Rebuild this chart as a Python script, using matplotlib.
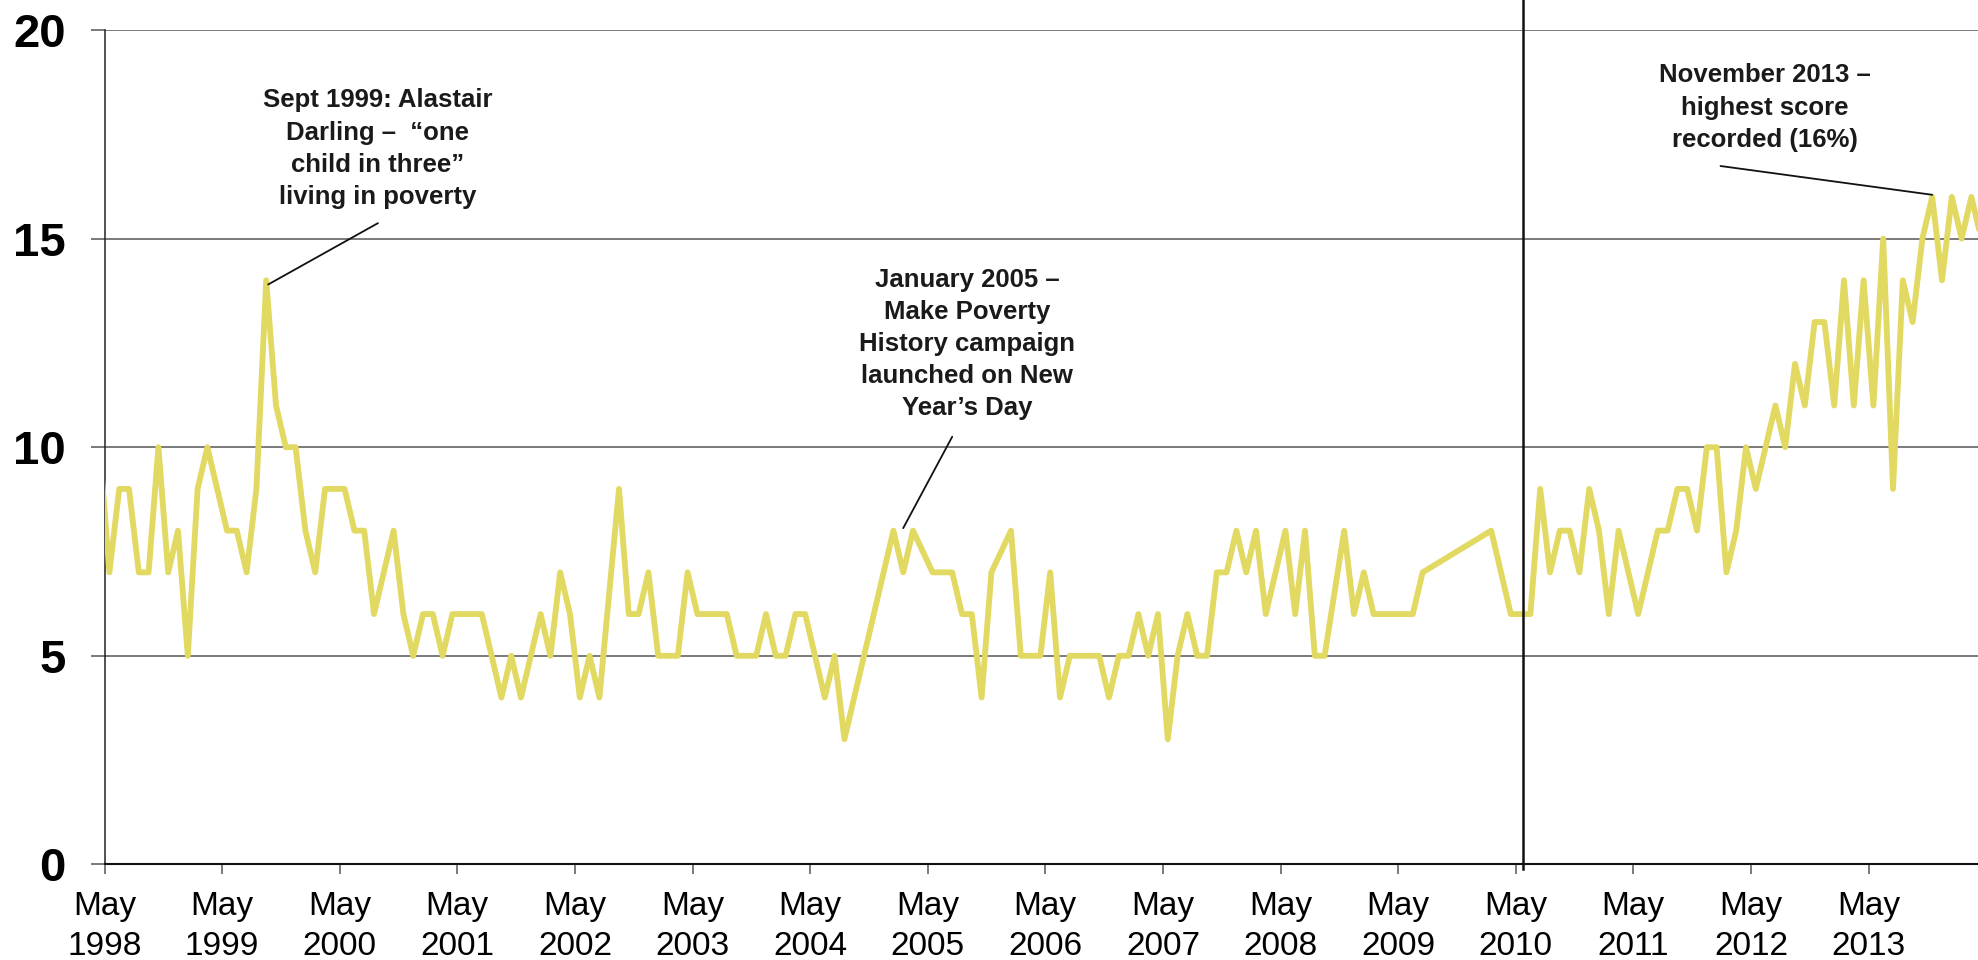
import matplotlib
matplotlib.use("Agg")
import matplotlib.pyplot as plt
import numpy as np

FONT = ["Liberation Sans", "DejaVu Sans"]
plt.rcParams["font.family"] = FONT

# Monthly scores (%), survey years May-April; None = no reading that month
score_apr1998 = [10]
score_9899 = [7, 9, 9, 7, 7, 10, 7, 8, 5, 9, 10, 9]
score_9900 = [8, 8, 7, 9, 14, 11, 10, 10, 8, 7, 9, 9]
score_0001 = [9, 8, 8, 6, 7, 8, 6, 5, 6, 6, 5, 6]
score_0102 = [6, 6, 6, 5, 4, 5, 4, 5, 6, 5, 7, 6]
score_0203 = [4, 5, 4, None, 9, 6, 6, 7, 5, 5, 5, 7]
score_0304 = [6, 6, 6, 6, 5, 5, 5, 6, 5, 5, 6, 6]
score_0405 = [5, 4, 5, 3, None, None, None, None, 8, 7, 8, None]
score_0506 = [7, 7, 7, 6, 6, 4, 7, None, 8, 5, 5, 5]
score_0607 = [7, 4, 5, 5, 5, 5, 4, 5, 5, 6, 5, 6]
score_0708 = [3, 5, 6, 5, 5, 7, 7, 8, 7, 8, 6, 7]
score_0809 = [8, 6, 8, 5, 5, None, 8, 6, 7, 6, 6, 6]
score_0910 = [6, 6, 7, None, None, None, None, None, None, 8, None, 6]
score_1011 = [6, 6, 9, 7, 8, 8, 7, 9, 8, 6, 8, 7]
score_1112 = [6, 7, 8, 8, 9, 9, 8, 10, 10, 7, 8, 10]
score_1213 = [9, 10, 11, 10, 12, 11, 13, 13, 11, 14, 11, 14]
score_1314 = [11, 15, 9, 14, 13, 15, 16, 14, 16, 15, 16, 15]

tick_years = list(range(1998, 2014))
tick_labels = [f"May\n{y}" for y in tick_years]
y_ticks = [0, 5, 10, 15, 20]

ann1_text = "Sept 1999: Alastair\nDarling \u2013  \u201cone\nchild in three\u201d\nliving in poverty"
ann2_text = "January 2005 \u2013\nMake Poverty\nHistory campaign\nlaunched on New\nYear\u2019s Day"
ann3_text = "November 2013 \u2013\nhighest score\nrecorded (16%)"

# ---------------------------------------------------------------
all_scores = (score_apr1998 + score_9899 + score_9900 + score_0001 + score_0102
              + score_0203 + score_0304 + score_0405 + score_0506 + score_0607
              + score_0708 + score_0809 + score_0910 + score_1011 + score_1112
              + score_1213 + score_1314)
months = np.arange(len(all_scores)) - 1  # month index, 0 = May 1998
mask = np.array([v is not None for v in all_scores])
xs = months[mask]
ys = np.array([v for v in all_scores if v is not None], dtype=float)

W, H = 1978, 960
fig = plt.figure(figsize=(W / 100, H / 100), dpi=100)
left_px, right_px, top_px, bottom_px = 104.5, 1978, 30, 864.4
ax = fig.add_axes([left_px / W, 1 - bottom_px / H,
                   (right_px - left_px) / W, (bottom_px - top_px) / H])

px_per_month = 9.8
ax.set_xlim(-0.5, -0.5 + (right_px - left_px) / px_per_month)
ax.set_ylim(0, 20)

grid_col = "#707070"
for yv in y_ticks[1:]:
    ax.axhline(yv, color=grid_col, lw=1.3, zorder=1)

ax.plot(xs, ys, color="#E1D962", lw=4.2, solid_joinstyle="round",
        solid_capstyle="round", zorder=3)

# election marker (May 2010)
ax.axvline(144.25, ymin=-0.006, ymax=1.05, color="#111111", lw=1.8,
           clip_on=False, zorder=4)

for s in ["top", "right"]:
    ax.spines[s].set_visible(False)
ax.spines["left"].set_color("#222222")
ax.spines["left"].set_linewidth(1.1)
ax.spines["bottom"].set_color("#111111")
ax.spines["bottom"].set_linewidth(1.5)
ax.spines["bottom"].set_zorder(5)

ax.set_yticks(y_ticks)
ax.set_yticklabels([str(v) for v in y_ticks], fontsize=34, fontweight="bold",
                   family=FONT)
ax.tick_params(axis="y", length=10, width=1.3, color=grid_col, pad=18)

ax.set_xticks([-0.5 + 12 * k for k in range(len(tick_years))])
ax.set_xticklabels(tick_labels, fontsize=24, family=FONT, linespacing=1.38)
ax.tick_params(axis="x", length=7, width=1.3, color=grid_col, pad=12)

ann_kw = dict(fontsize=18.5, fontweight="bold", ha="center", va="top",
              multialignment="center", family=FONT, linespacing=1.43,
              color="#1a1a1a", zorder=6)
ax.text(27.4, 18.6, ann1_text, **ann_kw)
ax.text(87.5, 14.3, ann2_text, **ann_kw)
ax.text(168.9, 19.2, ann3_text, **ann_kw)

line_kw = dict(arrowprops=dict(arrowstyle="-", color="#111111", lw=1.3,
                               shrinkA=0, shrinkB=0))
ax.annotate("", xy=(16.2, 13.9), xytext=(27.4, 15.37), **line_kw)
ax.annotate("", xy=(81.0, 8.06), xytext=(86.0, 10.25), **line_kw)
ax.annotate("", xy=(186.0, 16.05), xytext=(164.4, 16.74), **line_kw)

fig.savefig("out.png", dpi=100)
